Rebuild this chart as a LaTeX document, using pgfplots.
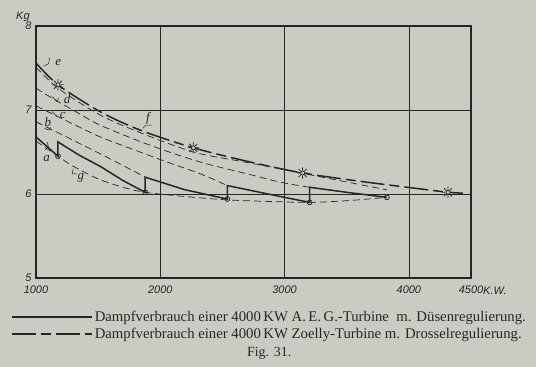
\documentclass[border=0pt]{standalone}
\usepackage{pgfplots}
\pgfplotsset{compat=1.18}
\usepackage{fontspec}
\setmainfont{Liberation Serif}
\newfontfamily\lsans{Liberation Sans}
\definecolor{bgcol}{RGB}{203,203,195}
\definecolor{ink}{RGB}{38,38,38}
\pgfdeclareplotmark{sun}{%
  \pgfpathcircle{\pgfpointorigin}{0.45\pgfplotmarksize}%
  \pgfusepathqfillstroke
  \foreach \a in {0,45,...,315}{%
    \pgfpathmoveto{\pgfpointpolar{\a}{0.6\pgfplotmarksize}}%
    \pgfpathlineto{\pgfpointpolar{\a}{1.25\pgfplotmarksize}}%
  }%
  \pgfusepathqstroke
}
\begin{document}
\begin{tikzpicture}
\fill[bgcol] (0,0) rectangle (536bp,367bp);
\begin{axis}[
  at={(36bp,89bp)}, anchor=south west,
  scale only axis, width=435bp, height=252bp,
  xmin=1000, xmax=4500, ymin=5, ymax=8,
  xtick={1000,2000,3000,4000,4500},
  ytick={5,6,7,8},
  grid=major,
  major grid style={ink, line width=0.7bp},
  axis line style={ink, line width=1.3bp},
  major tick length=0pt,
  tick label style={font=\lsans\itshape\fontsize{11}{12}\selectfont, text=ink},
  /pgf/number format/assume math mode=true,
  /pgf/number format/set thousands separator={},
  xticklabel style={yshift=-4bp},
  yticklabel style={xshift=-1bp},
  clip=false,
  legend style={at={(1.131,-0.122)}, anchor=north east, draw=none, fill=none,
    inner sep=0pt, row sep=1.5bp, text=ink,
    font=\fontsize{14.8}{16}\selectfont},
  legend cell align=left,
  legend image code/.code={\draw[#1] (0bp,0bp) -- (80bp,0bp);},
]
% a: AEG, solid sawtooth
\addplot[ink, line width=1.5bp] coordinates {
 (1000,6.68) (1177,6.45) (1177,6.62) (1350,6.46) (1516,6.33) (1700,6.16) (1879,6.02)
 (1879,6.20) (2200,6.05) (2540,5.94)
 (2540,6.10) (2900,5.99) (3202,5.90)
 (3202,6.08) (3500,6.02) (3823,5.96)};
\addlegendentry{Dampfverbrauch einer 4000\,KW A.\,E.\,G.-Turbine\ \ m. Düsenregulierung.}
% f: Zoelly
\addplot[ink, line width=1.5bp, dash pattern=on 24bp off 5bp on 10bp off 5bp, smooth, tension=0.5] coordinates {
 (1000,7.56) (1177,7.30) (1516,6.98) (1839,6.76) (2266,6.55) (2726,6.38)
 (3145,6.25) (3613,6.15) (4097,6.06) (4315,6.02) (4435,6.01)};
\addlegendentry{Dampfverbrauch einer 4000\,KW Zoelly-Turbine m. Drosselregulierung.}
% e
\addplot[ink, line width=0.7bp, dash pattern=on 7bp off 4bp, smooth, tension=0.5, forget plot] coordinates {
 (1000,7.51) (1177,7.26) (1516,6.94) (1839,6.73) (2266,6.50) (2645,6.39)
 (2968,6.30) (3371,6.18) (3823,6.05)};
% d
\addplot[ink, line width=0.7bp, dash pattern=on 7bp off 4bp, smooth, tension=0.5, forget plot] coordinates {
 (1000,7.26) (1153,7.12) (1298,7.00) (1516,6.82) (1919,6.58) (2323,6.38)
 (2726,6.23) (2968,6.14) (3202,6.08)};
% c
\addplot[ink, line width=0.7bp, dash pattern=on 7bp off 4bp, smooth, tension=0.5, forget plot] coordinates {
 (1000,7.05) (1274,6.85) (1516,6.68) (1782,6.53) (2056,6.38) (2323,6.24) (2540,6.10)};
% b
\addplot[ink, line width=0.7bp, dash pattern=on 7bp off 4bp, smooth, tension=0.5, forget plot] coordinates {
 (1000,6.86) (1298,6.64) (1621,6.40) (1879,6.20)};
% g
\addplot[ink, line width=0.7bp, dash pattern=on 7bp off 4bp, smooth, tension=0.5, forget plot] coordinates {
 (1000,6.63) (1177,6.45) (1300,6.33) (1500,6.18) (1700,6.08) (1879,6.02)
 (2200,5.97) (2540,5.93) (2900,5.91) (3202,5.90) (3500,5.92) (3823,5.96)};
% circles
\addplot[only marks, mark=o, mark size=2.4bp, ink, line width=0.8bp, mark options={fill=bgcol}, forget plot] coordinates {
 (1177,6.45) (1879,6.02) (2540,5.94) (3202,5.90) (3823,5.96)};
% stars
\addplot[only marks, mark=sun, mark size=4.5bp, ink, line width=0.8bp, mark options={fill=bgcol}, forget plot] coordinates {
 (1177,7.30) (2266,6.55) (3145,6.25) (4315,6.02)};
% curve letters
\begin{scope}[ink, font=\itshape\fontsize{13}{13}\selectfont]
\node at (axis cs:1180,7.57) {e};
\draw[line width=0.5bp] (axis cs:1060,7.52) -- (axis cs:1100,7.55) -- (axis cs:1110,7.62);
\node at (axis cs:1250,7.13) {d};
\draw[line width=0.5bp] (axis cs:1130,7.16) -- (axis cs:1170,7.10) -- (axis cs:1180,7.14);
\node at (axis cs:1215,6.94) {c};
\draw[line width=0.5bp] (axis cs:1130,6.98) -- (axis cs:1170,6.92);
\node at (axis cs:1095,6.86) {b};
\draw[line width=0.5bp] (axis cs:1070,6.78) -- (axis cs:1110,6.76) -- (axis cs:1115,6.80);
\node at (axis cs:1085,6.42) {a};
\draw[line width=0.5bp] (axis cs:1070,6.52) -- (axis cs:1100,6.56) -- (axis cs:1090,6.62);
\node at (axis cs:1360,6.19) {g};
\draw[line width=0.5bp] (axis cs:1300,6.30) -- (axis cs:1290,6.24) -- (axis cs:1330,6.24);
\node at (axis cs:1900,6.90) {f};
\draw[line width=0.5bp] (axis cs:1860,6.78) -- (axis cs:1880,6.82) -- (axis cs:1930,6.82);
\end{scope}
\node[ink, font=\lsans\itshape\fontsize{11}{12}\selectfont, anchor=west] at (axis description cs:1.02,-0.05) {K.W.};
\node[ink, font=\lsans\itshape\fontsize{11}{12}\selectfont] at (axis description cs:-0.03,1.035) {Kg};
\node[ink, font=\fontsize{14}{15}\selectfont] at (axis description cs:0.536,-0.30) {Fig. 31.};
\end{axis}
\end{tikzpicture}
\end{document}
